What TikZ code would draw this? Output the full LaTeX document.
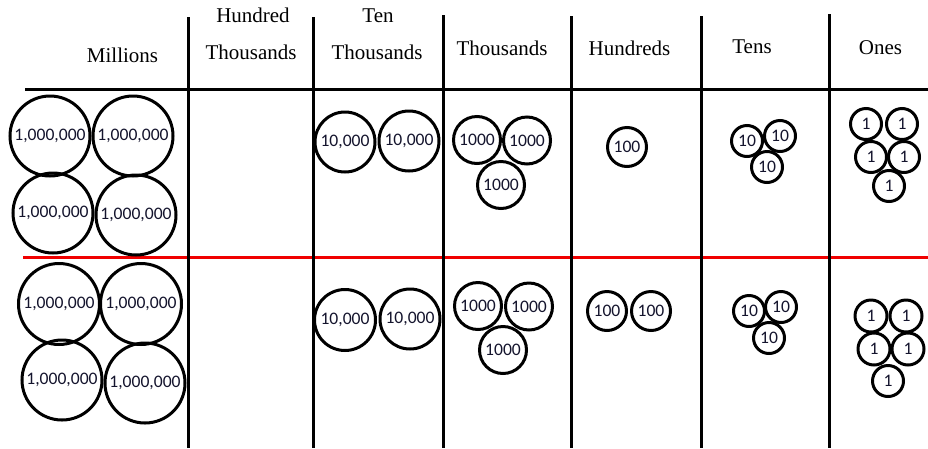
\documentclass[tikz,border=0pt]{standalone}
\usepackage{fontspec}
\setmainfont{Liberation Serif}
\newfontfamily\coinfont{Carlito}
\definecolor{cointext}{RGB}{20,20,45}
\begin{document}
\begin{tikzpicture}[x=1pt,y=-1pt,
  coin/.style={circle,draw=black,line width=3pt,minimum size=#1,inner sep=0pt,
    text=cointext,font=\coinfont\fontsize{17.6}{18}\selectfont},
  head/.style={anchor=base,inner sep=0pt,font=\fontsize{21}{22}\selectfont},
  rule/.style={line width=3pt,draw=black}]
\useasboundingbox (0,0) rectangle (928,448);
% grid
\draw[rule] (25,89) -- (928,89);
\draw[line width=3pt,draw={rgb,255:red,240;green,0;blue,0}] (23,257) -- (928,257);
\draw[rule] (188,17) -- (188,448);
\draw[rule] (313,17) -- (313,448);
\draw[rule] (443,15) -- (443,448);
\draw[rule] (571,16) -- (571,448);
\draw[rule] (701,16) -- (701,448);
\draw[rule] (829,14) -- (829,448);
% headers
\node[head] (hM) at (122.5,62) {Millions};
\node[head] (hHT1) at (253,22.5) {Hundred};
\node[head] (hHT2) at (251,59) {Thousands};
\node[head] (hTT1) at (378,22.5) {Ten};
\node[head] (hTT2) at (377,59) {Thousands};
\node[head] (hT) at (502,55) {Thousands};
\node[head] (hH) at (629.5,55) {Hundreds};
\node[head] (hTe) at (752,53) {Tens};
\node[head] (hO) at (880.5,54) {Ones};
% top row
\node[coin=80] (m1) at (50,136) {1,000,000};
\node[coin=80] (m2) at (133,136) {1,000,000};
\node[coin=80] (m3) at (53,213) {1,000,000};
\node[coin=80] (m4) at (136,215) {1,000,000};
\node[coin=60] (tt1) at (345,142) {10,000};
\node[coin=60] (tt2) at (409,141) {10,000};
\node[coin=47] (t1) at (477,140) {1000};
\node[coin=47] (t2) at (527,140.5) {1000};
\node[coin=47] (t3) at (501,185) {1000};
\node[coin=39] (h1) at (627,147) {100};
\node[coin=31] (te1) at (747,141) {10};
\node[coin=31] (te2) at (780,136) {10};
\node[coin=31] (te3) at (767,167) {10};
\node[coin=31] (o1) at (866,124) {1};
\node[coin=31] (o2) at (902,124) {1};
\node[coin=31] (o3) at (871,157) {1};
\node[coin=31] (o4) at (904,157) {1};
\node[coin=31] (o5) at (889,186) {1};
% bottom row
\node[coin=81] (bm1) at (59,304) {1,000,000};
\node[coin=81] (bm2) at (141,304) {1,000,000};
\node[coin=80] (bm3) at (62,380) {1,000,000};
\node[coin=80] (bm4) at (145,383) {1,000,000};
\node[coin=61] (btt1) at (345,320) {10,000};
\node[coin=60] (btt2) at (410,319) {10,000};
\node[coin=47] (bt1) at (478,306) {1000};
\node[coin=47] (bt2) at (529,306.5) {1000};
\node[coin=47] (bt3) at (503,350) {1000};
\node[coin=39] (bh1) at (607,311) {100};
\node[coin=39] (bh2) at (651,311) {100};
\node[coin=31] (bte1) at (749,311) {10};
\node[coin=31] (bte2) at (781,307) {10};
\node[coin=31] (bte3) at (769,338) {10};
\node[coin=32] (bo1) at (871,316) {1};
\node[coin=32] (bo2) at (906,316) {1};
\node[coin=32] (bo3) at (874,349) {1};
\node[coin=32] (bo4) at (908,349) {1};
\node[coin=31] (bo5) at (888,381) {1};
\end{tikzpicture}
\end{document}
